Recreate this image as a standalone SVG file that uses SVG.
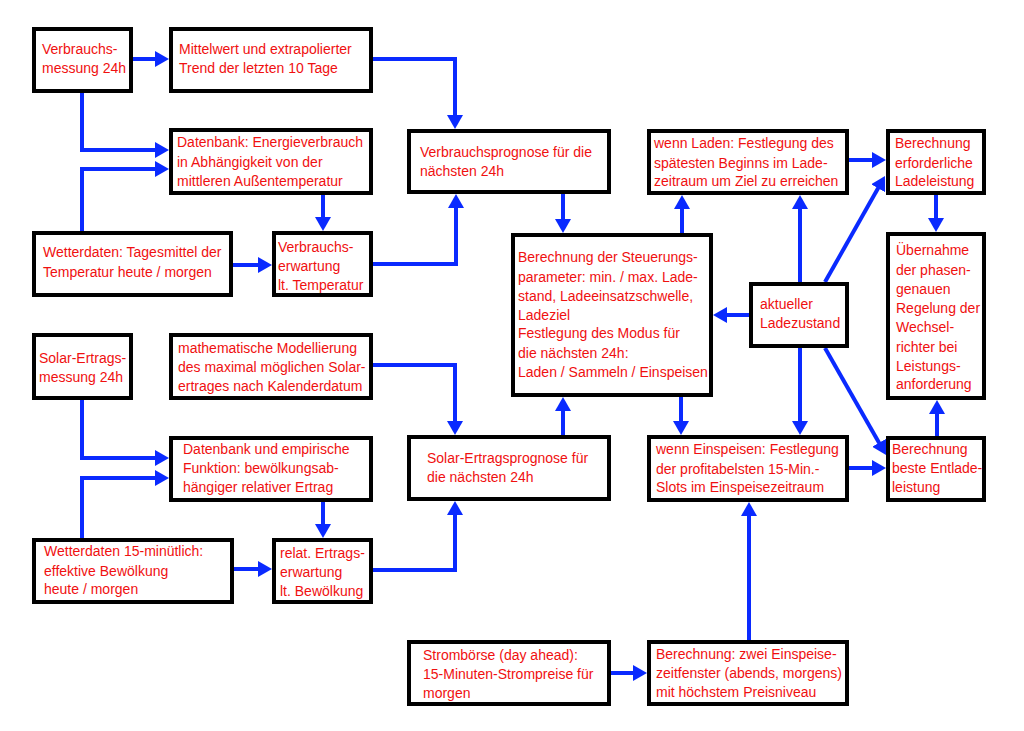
<svg xmlns="http://www.w3.org/2000/svg" width="1024" height="731" viewBox="0 0 1024 731">
<style>
.b{fill:#fff;stroke:#000;stroke-width:4}
.t{font-family:"Liberation Sans",Arial,sans-serif;font-size:14px;fill:#f01010}
.c{fill:none;stroke:#0a2aff;stroke-width:4;marker-end:url(#a)}
</style>
<defs>
<marker id="a" viewBox="0 0 14 16" refX="3" refY="8" markerWidth="14" markerHeight="16" markerUnits="userSpaceOnUse" orient="auto">
<path d="M0,0 L14,8 L0,16 z" fill="#0a2aff"/>
</marker>
</defs>
<rect width="1024" height="731" fill="#fff"/>
<g id="connectors">
<path class="c" d="M133,59 H158"/>
<path class="c" d="M373,59 H455 V118"/>
<path class="c" d="M82,93 V150 H158"/>
<path class="c" d="M82,231 V169 H158"/>
<path class="c" d="M323,195 V220"/>
<path class="c" d="M233,265 H261"/>
<path class="c" d="M373,264 H456 V205"/>
<path class="c" d="M563,194 V222"/>
<path class="c" d="M682,233 V206"/>
<path class="c" d="M849,160 H875"/>
<path class="c" d="M749,315 H724"/>
<path class="c" d="M800,282 V206"/>
<path class="c" d="M825,282 L879.6,185.6"/>
<path class="c" d="M936,195 V221"/>
<path class="c" d="M937,436 V411"/>
<path class="c" d="M825,348 L880.6,445.4"/>
<path class="c" d="M800,348 V424"/>
<path class="c" d="M849,468 H875"/>
<path class="c" d="M681,397 V424"/>
<path class="c" d="M563,435 V408"/>
<path class="c" d="M373,365 H455 V424"/>
<path class="c" d="M373,570 H455 V512"/>
<path class="c" d="M611,673 H636"/>
<path class="c" d="M749,640 V513"/>
<path class="c" d="M82,400 V458 H158"/>
<path class="c" d="M82,538 V478 H158"/>
<path class="c" d="M323,502 V527"/>
<path class="c" d="M234,569 H261"/>
</g>
<g id="n1"><rect class="b" x="34" y="29" width="97" height="62"/><text class="t"><tspan x="42" y="54">Verbrauchs-</tspan><tspan x="42" y="73">messung 24h</tspan></text></g>
<g id="n2"><rect class="b" x="171" y="29" width="200" height="62"/><text class="t"><tspan x="179" y="54">Mittelwert und extrapolierter</tspan><tspan x="179" y="73">Trend der letzten 10 Tage</tspan></text></g>
<g id="n3"><rect class="b" x="171" y="130" width="200" height="63"/><text class="t"><tspan x="177" y="147">Datenbank: Energieverbrauch</tspan><tspan x="177" y="167">in Abhängigkeit von der</tspan><tspan x="177" y="186">mittleren Außentemperatur</tspan></text></g>
<g id="n4"><rect class="b" x="34" y="233" width="197" height="62"/><text class="t"><tspan x="43" y="257">Wetterdaten: Tagesmittel der</tspan><tspan x="43" y="277">Temperatur heute / morgen</tspan></text></g>
<g id="n5"><rect class="b" x="274" y="233" width="97" height="62"/><text class="t"><tspan x="278" y="252">Verbrauchs-</tspan><tspan x="278" y="271">erwartung</tspan><tspan x="278" y="290">lt. Temperatur</tspan></text></g>
<g id="n6"><rect class="b" x="409" y="131" width="200" height="61"/><text class="t"><tspan x="420" y="157">Verbrauchsprognose für die</tspan><tspan x="420" y="176">nächsten 24h</tspan></text></g>
<g id="n7"><rect class="b" x="513" y="235" width="198" height="160"/><text class="t"><tspan x="518" y="262">Berechnung der Steuerungs-</tspan><tspan x="518" y="282">parameter: min. / max. Lade-</tspan><tspan x="518" y="301">stand, Ladeeinsatzschwelle,</tspan><tspan x="518" y="320">Ladeziel</tspan><tspan x="518" y="338">Festlegung des Modus für</tspan><tspan x="518" y="358">die nächsten 24h:</tspan><tspan x="518" y="377">Laden / Sammeln / Einspeisen</tspan></text></g>
<g id="n8"><rect class="b" x="649" y="131" width="198" height="62"/><text class="t"><tspan x="654" y="148">wenn Laden: Festlegung des</tspan><tspan x="654" y="168">spätesten Beginns im Lade-</tspan><tspan x="654" y="186">zeitraum um Ziel zu erreichen</tspan></text></g>
<g id="n9"><rect class="b" x="888" y="131" width="96" height="62"/><text class="t"><tspan x="895" y="148">Berechnung</tspan><tspan x="895" y="168">erforderliche</tspan><tspan x="895" y="186">Ladeleistung</tspan></text></g>
<g id="n10"><rect class="b" x="751" y="284" width="96" height="62"/><text class="t"><tspan x="760" y="309">aktueller</tspan><tspan x="760" y="328">Ladezustand</tspan></text></g>
<g id="n11"><rect class="b" x="888" y="234" width="96" height="164"/><text class="t"><tspan x="896" y="255">Übernahme</tspan><tspan x="896" y="275">der phasen-</tspan><tspan x="896" y="294">genauen</tspan><tspan x="896" y="313">Regelung der</tspan><tspan x="896" y="332">Wechsel-</tspan><tspan x="896" y="352">richter bei</tspan><tspan x="896" y="371">Leistungs-</tspan><tspan x="896" y="389">anforderung</tspan></text></g>
<g id="n12"><rect class="b" x="888" y="438" width="96" height="62"/><text class="t"><tspan x="892" y="454">Berechnung</tspan><tspan x="892" y="473">beste Entlade-</tspan><tspan x="892" y="492">leistung</tspan></text></g>
<g id="n13"><rect class="b" x="649" y="437" width="198" height="63"/><text class="t"><tspan x="656" y="454">wenn Einspeisen: Festlegung</tspan><tspan x="656" y="474">der profitabelsten 15-Min.-</tspan><tspan x="656" y="492">Slots im Einspeisezeitraum</tspan></text></g>
<g id="n14"><rect class="b" x="409" y="437" width="200" height="62"/><text class="t"><tspan x="427" y="463">Solar-Ertragsprognose für</tspan><tspan x="427" y="482">die nächsten 24h</tspan></text></g>
<g id="n15"><rect class="b" x="409" y="642" width="200" height="62"/><text class="t"><tspan x="423" y="660">Strombörse (day ahead):</tspan><tspan x="423" y="679">15-Minuten-Strompreise für</tspan><tspan x="423" y="698">morgen</tspan></text></g>
<g id="n16"><rect class="b" x="649" y="642" width="198" height="62"/><text class="t"><tspan x="656" y="659">Berechnung: zwei Einspeise-</tspan><tspan x="656" y="678">zeitfenster (abends, morgens)</tspan><tspan x="656" y="697">mit höchstem Preisniveau</tspan></text></g>
<g id="n17"><rect class="b" x="34" y="335" width="97" height="63"/><text class="t"><tspan x="39" y="363">Solar-Ertrags-</tspan><tspan x="39" y="382">messung 24h</tspan></text></g>
<g id="n18"><rect class="b" x="171" y="335" width="200" height="63"/><text class="t"><tspan x="178" y="353">mathematische Modellierung</tspan><tspan x="178" y="372">des maximal möglichen Solar-</tspan><tspan x="178" y="391">ertrages nach Kalenderdatum</tspan></text></g>
<g id="n19"><rect class="b" x="171" y="438" width="200" height="62"/><text class="t"><tspan x="183" y="454">Datenbank und empirische</tspan><tspan x="183" y="473">Funktion: bewölkungsab-</tspan><tspan x="183" y="492">hängiger relativer Ertrag</tspan></text></g>
<g id="n20"><rect class="b" x="34" y="540" width="198" height="62"/><text class="t"><tspan x="44" y="556">Wetterdaten 15-minütlich:</tspan><tspan x="44" y="576">effektive Bewölkung</tspan><tspan x="44" y="594">heute / morgen</tspan></text></g>
<g id="n21"><rect class="b" x="274" y="540" width="97" height="62"/><text class="t"><tspan x="280" y="558">relat. Ertrags-</tspan><tspan x="280" y="577">erwartung</tspan><tspan x="280" y="596">lt. Bewölkung</tspan></text></g>
</svg>
